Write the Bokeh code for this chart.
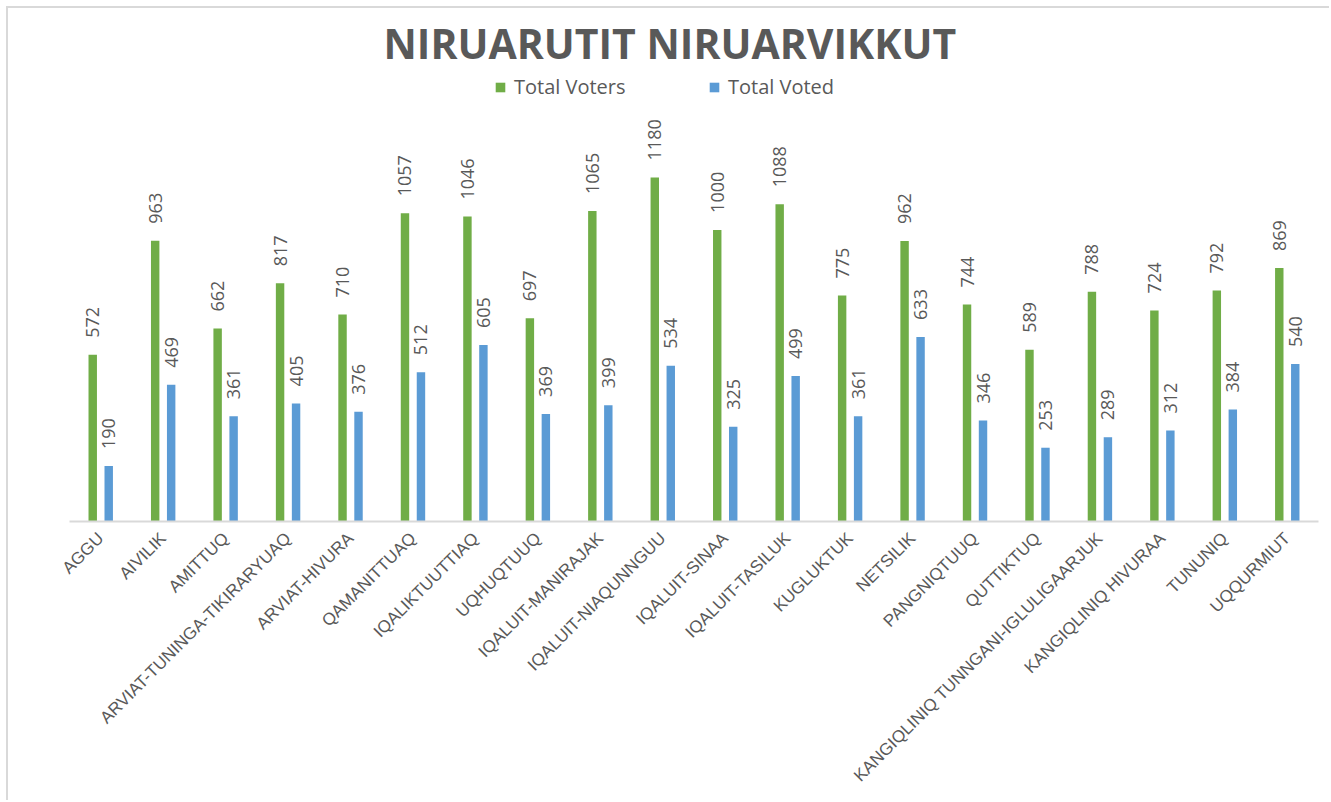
from math import pi
from bokeh.plotting import figure
from bokeh.models import ColumnDataSource, FactorRange, Range1d, Legend
from bokeh.transform import dodge
from bokeh.core.properties import value
from bokeh.embed import file_html
from bokeh.resources import INLINE

districts = [
    "AGGU", "AIVILIK", "AMITTUQ", "ARVIAT-TUNINGA-TIKIRARYUAQ", "ARVIAT-HIVURA",
    "QAMANITTUAQ", "IQALIKTUUTTIAQ", "UQHUQTUUQ", "IQALUIT-MANIRAJAK",
    "IQALUIT-NIAQUNNGUU", "IQALUIT-SINAA", "IQALUIT-TASILUK", "KUGLUKTUK",
    "NETSILIK", "PANGNIQTUUQ", "QUTTIKTUQ", "KANGIQLINIQ TUNNGANI-IGLULIGAARJUK",
    "KANGIQLINIQ HIVURAA", "TUNUNIQ", "UQQURMIUT",
]
total_voters = [572, 963, 662, 817, 710, 1057, 1046, 697, 1065, 1180,
                1000, 1088, 775, 962, 744, 589, 788, 724, 792, 869]
total_voted = [190, 469, 361, 405, 376, 512, 605, 369, 399, 534,
               325, 499, 361, 633, 346, 253, 289, 312, 384, 540]

GREEN = "#70ad47"
BLUE = "#5b9bd5"
GRAY = "#595959"

src = ColumnDataSource(dict(
    cat=districts,
    voters=total_voters,
    voted=total_voted,
    voters_lbl=[str(v) for v in total_voters],
    voted_lbl=[str(v) for v in total_voted],
))

p = figure(
    x_range=FactorRange(*districts, range_padding=0),
    y_range=Range1d(0, 1533),
    width=1323, height=794,
    output_backend="svg", toolbar_location=None,
    min_border_left=61, min_border_right=13,
    min_border_top=62, min_border_bottom=281,
)
p.styles = {"margin-left": "6px", "margin-top": "6px",
            "border-top": "2px solid #d9d9d9", "border-left": "2px solid #d9d9d9"}

p.title.text = "NIRUARUTIT NIRUARVIKKUT"
p.title.text_font = "Open Sans"
p.title.text_font_style = "bold"
p.title.text_font_size = "41px"
p.title.text_color = GRAY
p.title.align = "left"
p.title.offset = 314
p.title.standoff = 8

dx = 0.128
r1 = p.vbar(x=dodge("cat", -dx, range=p.x_range), top="voters", width=0.135,
            source=src, fill_color=GREEN, line_color=None)
r2 = p.vbar(x=dodge("cat", dx, range=p.x_range), top="voted", width=0.135,
            source=src, fill_color=BLUE, line_color=None)

for off, col, lbl in [(-dx, "voters", "voters_lbl"), (dx, "voted", "voted_lbl")]:
    p.text(x=dodge("cat", off, range=p.x_range), y=col, text=lbl, source=src,
           angle=pi / 2, text_align="left", text_baseline="middle", y_offset=-17,
           text_font=value("Open Sans"), text_font_size="18px", text_color=GRAY)

p.yaxis.visible = False
p.xgrid.grid_line_color = None
p.ygrid.grid_line_color = None
p.outline_line_color = None
p.xaxis.axis_line_color = "#d9d9d9"
p.xaxis.axis_line_width = 2
p.xaxis.major_tick_line_color = None
p.xaxis.minor_tick_line_color = None
p.xaxis.major_label_orientation = pi / 4
p.xaxis.major_label_text_font = "Liberation Sans"
p.xaxis.major_label_text_font_size = "17px"
p.xaxis.major_label_text_color = GRAY
p.xaxis.major_label_standoff = 8

legend = Legend(
    items=[("Total Voters", [r1]), ("Total Voted", [r2])],
    orientation="horizontal", location=(425, 421),
    padding=0, margin=0, spacing=44, label_standoff=8,
    glyph_width=12, glyph_height=12, label_width=150, label_height=26,
    label_text_font="Open Sans", label_text_font_size="20px", label_text_color=GRAY,
    border_line_color=None, background_fill_alpha=0,
)
p.add_layout(legend, "center")

open("out.html", "w").write(file_html(p, INLINE))
